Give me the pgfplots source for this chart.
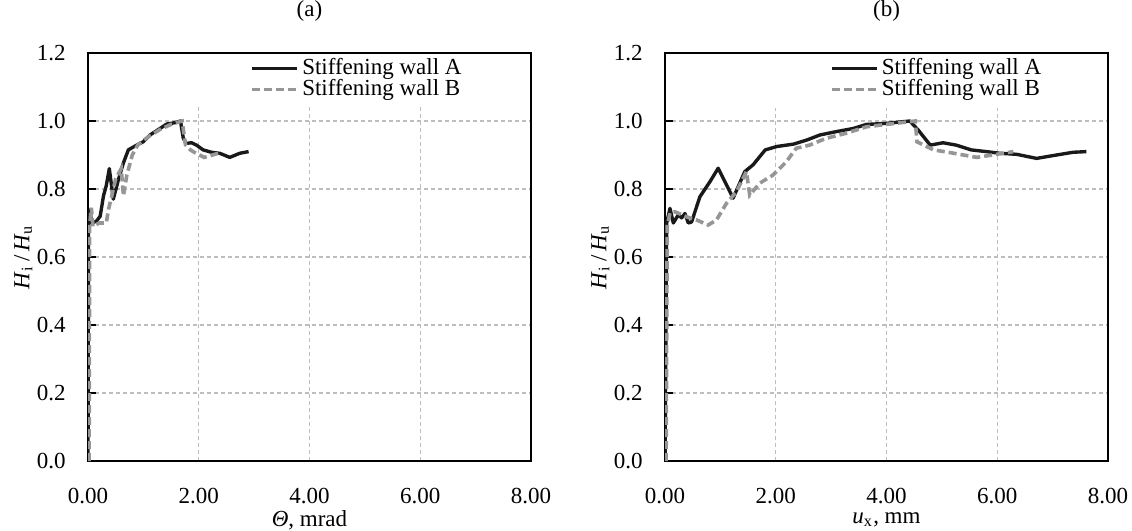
\documentclass[border=0pt]{standalone}
\usepackage{fontspec}
\setmainfont{Liberation Serif}
\usepackage{pgfplots}
\pgfplotsset{compat=1.18}
\definecolor{greyB}{RGB}{150,150,150}
\definecolor{gridc}{RGB}{190,190,190}

\pgfplotsset{
  panel/.style={
    set layers,
    scale only axis, width=177.2pt, height=163.2pt,
    anchor=south west,
    xmin=0, xmax=8, ymin=0, ymax=1.2,
    xtick={0,2,4,6,8},
    ytick={0,0.2,0.4,0.6,0.8,1.0,1.2},
    scaled ticks=false,
    font=\fontsize{9.2}{11}\selectfont,
    axis line style={line width=1.15pt, black},
    grid=major,
    grid style={gridc, line width=0.45pt, dash pattern=on 1.6pt off 1.2pt},
    tick align=inside, ytick pos=left,
    major tick length=3pt,
    xtick style={draw=none},
    ytick style={black, line width=0.7pt},
    /pgf/number format/assume math mode=true,
    xticklabel style={yshift=-7.4pt, /pgf/number format/.cd, fixed, fixed zerofill, precision=2},
    yticklabel style={xshift=-5.4pt, /pgf/number format/.cd, fixed, fixed zerofill, precision=1},
    title style={at={(0.5,1)}, anchor=center, yshift=10.8pt},
    xlabel style={at={(axis description cs:0.5,-0.145)}, anchor=center},
    ylabel style={at={(axis description cs:-0.146,0.5)}, anchor=center},
    ylabel={\textit{H}\textsubscript{i}\,/\,\textit{H}\textsubscript{u}},
    legend cell align=left,
    legend image code/.code={\draw[##1] (0pt,0pt) -- (18pt,0pt);},
    legend style={draw=none, fill=none, inner sep=0pt, row sep=-2pt,
      nodes={inner sep=1.2pt}, font=\fontsize{9.2}{11}\selectfont},
  },
  lineA/.style={black!90, line width=1.35pt, line join=round},
  lineB/.style={greyB, line width=1.45pt, dash pattern=on 3.2pt off 1.6pt},
  cover/.style={draw=none, fill=white, on layer=axis ticks, forget plot},
}

\begin{document}
\begin{tikzpicture}

\begin{axis}[panel, at={(35.2pt,27.6pt)},
  title={(a)},
  xlabel={\textit{Θ}, mrad},
  legend style={at={(axis description cs:0.366,0.995)}, anchor=north west}]
\addplot[cover] coordinates {(1.5,1.047) (8,1.047) (8,1.2) (1.5,1.2)} -- cycle;
\addplot[lineA] coordinates {
 (0,0) (0.01,0.70) (0.04,0.74) (0.06,0.70) (0.15,0.705) (0.22,0.72)
 (0.28,0.78) (0.33,0.81) (0.385,0.86) (0.457,0.77) (0.547,0.826)
 (0.638,0.876) (0.728,0.915) (0.879,0.929) (0.999,0.939) (1.12,0.959)
 (1.30,0.978) (1.42,0.991) (1.57,0.995) (1.67,1.0) (1.72,0.95)
 (1.77,0.934) (1.87,0.936) (1.96,0.929) (2.08,0.915) (2.23,0.908)
 (2.38,0.905) (2.56,0.893) (2.74,0.905) (2.90,0.91)};
\addlegendentry{Stiffening wall A}
\addplot[lineB] coordinates {
 (0.02,0) (0.03,0.69) (0.06,0.745) (0.09,0.69) (0.2,0.70) (0.33,0.70)
 (0.37,0.74) (0.43,0.78) (0.5,0.83) (0.6,0.86) (0.64,0.78) (0.7,0.84)
 (0.8,0.90) (0.9,0.93) (1.1,0.955) (1.3,0.975) (1.5,0.99) (1.7,1.0)
 (1.76,0.93) (1.85,0.915) (1.95,0.905) (2.1,0.893) (2.25,0.90) (2.35,0.905)};
\addlegendentry{Stiffening wall B}
\end{axis}

\begin{axis}[panel, at={(266pt,27.6pt)},
  title={(b)},
  xlabel={\textit{u}\textsubscript{x}, mm},
  legend style={at={(axis description cs:0.372,0.995)}, anchor=north west}]
\addplot[cover] coordinates {(1.5,1.037) (8,1.037) (8,1.2) (1.5,1.2)} -- cycle;
\addplot[lineA] coordinates {
 (0,0) (0.03,0.70) (0.09,0.743) (0.15,0.70) (0.24,0.724) (0.30,0.715)
 (0.36,0.728) (0.42,0.70) (0.48,0.703) (0.63,0.777) (0.81,0.821)
 (0.96,0.861) (1.23,0.773) (1.44,0.851) (1.59,0.871) (1.81,0.915)
 (2.02,0.925) (2.32,0.932) (2.56,0.944) (2.80,0.959) (3.10,0.969)
 (3.40,0.978) (3.64,0.99) (4.0,0.993) (4.42,1.0) (4.57,0.974)
 (4.79,0.929) (5.02,0.936) (5.26,0.929) (5.53,0.915) (5.80,0.91)
 (6.05,0.905) (6.35,0.902) (6.71,0.89) (7.07,0.90) (7.37,0.908) (7.61,0.91)};
\addlegendentry{Stiffening wall A}
\addplot[lineB] coordinates {
 (0.02,0) (0.04,0.69) (0.09,0.73) (0.18,0.733) (0.39,0.718) (0.57,0.709)
 (0.78,0.694) (0.93,0.709) (1.11,0.758) (1.29,0.792) (1.47,0.851)
 (1.53,0.782) (1.71,0.817) (1.95,0.841) (2.19,0.88) (2.37,0.92)
 (2.61,0.929) (2.91,0.949) (3.27,0.964) (3.64,0.983) (4.0,0.99)
 (4.42,0.998) (4.52,1.0) (4.55,0.939) (4.85,0.915) (5.15,0.907)
 (5.63,0.893) (5.99,0.902) (6.29,0.91)};
\addlegendentry{Stiffening wall B}
\end{axis}
\pgfresetboundingbox
\useasboundingbox (0,0) rectangle (452.8pt,212pt);
\end{tikzpicture}
\end{document}
